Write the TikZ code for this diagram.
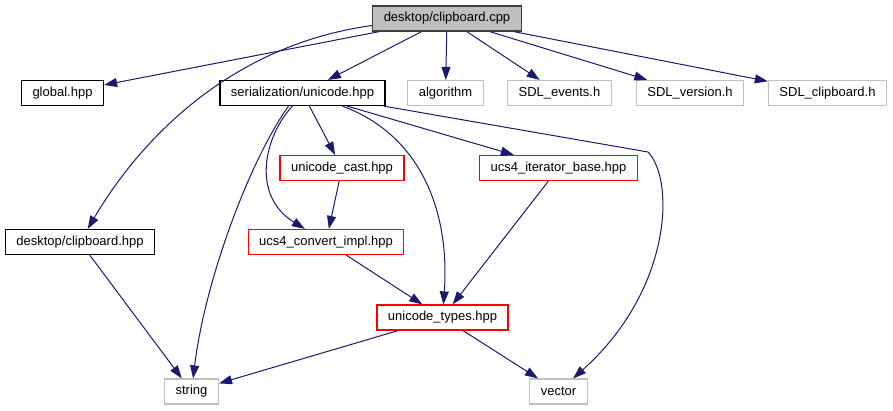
\documentclass[tikz,border=0pt]{standalone}
\usepackage{fontspec}
\setmainfont{Liberation Sans}
\usetikzlibrary{arrows.meta}
\definecolor{edgeblue}{HTML}{191970}
\definecolor{extgray}{HTML}{BFBFBF}

\begin{document}
\begin{tikzpicture}[
    x=1pt, y=-1pt,
    >={Triangle[length=13pt,width=9pt]},
    hdr/.style={draw, line width=1.2pt, minimum height=25pt, inner xsep=11pt, inner ysep=0pt,
        font=\fontsize{13}{15}\selectfont},
    file/.style={hdr, draw=black},
    root/.style={hdr, draw=black!75, fill=extgray},
    trunc/.style={hdr, draw=red},
    sys/.style={hdr, draw=extgray},
    dep/.style={->, draw=edgeblue, line width=1pt},
]
\useasboundingbox (0,0) rectangle (893,411);

% top level
\node[root] (cpp) at (447,18.5) {desktop/clipboard.cpp};

% direct includes
\node[file] (global)  at (62.5,93)  {global.hpp};
\node[file] (uni)     at (302.5,93) {serialization/unicode.hpp};
\node[sys]  (algo)    at (445.5,93) {algorithm};
\node[sys]  (events)  at (559.5,93) {SDL\_events.h};
\node[sys]  (version) at (690,93)   {SDL\_version.h};
\node[sys]  (clip)    at (827.5,93) {SDL\_clipboard.h};

% serialization
\node[trunc] (cast)  at (342,168)     {unicode\_cast.hpp};
\node[trunc] (iter)  at (558.5,168)   {ucs4\_iterator\_base.hpp};
\node[file]  (hpp)   at (80,242)      {desktop/clipboard.hpp};
\node[trunc] (conv)  at (326,242)     {ucs4\_convert\_impl.hpp};
\node[trunc] (types) at (442.5,317.5) {unicode\_types.hpp};

% std
\node[sys] (string) at (191.5,391.5) {string};
\node[sys] (vector) at (558.5,391.5) {vector};

\draw[dep] (cpp) -- (global);
\draw[dep] ([yshift=-7pt]cpp.west) .. controls (230,45) and (140,140) .. (hpp);
\draw[dep] (cpp) -- (uni);
\draw[dep] (cpp) -- (algo);
\draw[dep] (cpp) -- (events);
\draw[dep] (cpp) -- (version);
\draw[dep] (cpp) -- (clip);

\draw[dep] (uni) -- (cast);
\draw[dep] (uni) -- (iter);
\draw[dep] ([xshift=-10pt]uni.south) .. controls (265,135) and (250,195) .. (conv);
\draw[dep] ([xshift=-14pt]uni.south) .. controls (250,160) and (205,280) .. (string);
\draw[dep] ([xshift=40pt]uni.south) .. controls (420,135) and (450,210) .. (types);
\draw[dep] ([xshift=-2pt]uni.south east) -- (648,152) .. controls (675,180) and (672,290) .. (vector);

\draw[dep] (cast) -- (conv);
\draw[dep] (conv) -- (types);
\draw[dep] (iter) -- (types);
\draw[dep] (hpp) -- (string);
\draw[dep] (types) -- (string);
\draw[dep] (types) -- (vector);

\end{tikzpicture}
\end{document}
